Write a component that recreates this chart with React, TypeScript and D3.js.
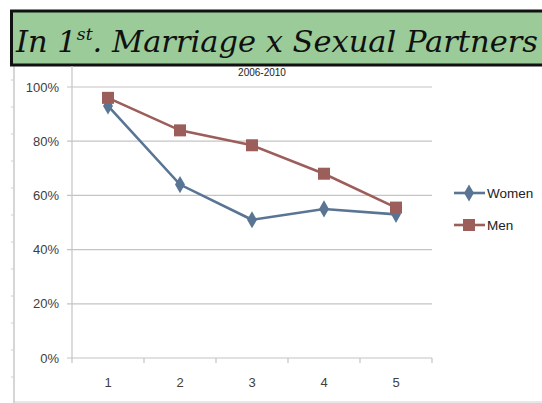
import React from "react";
import * as d3 from "d3";

const categories = ["1", "2", "3", "4", "5"];
const women = [0.93, 0.64, 0.51, 0.55, 0.53];
const men = [0.96, 0.84, 0.785, 0.68, 0.555];
const yTicks = [0, 0.2, 0.4, 0.6, 0.8, 1.0];
const seriesNames = ["Women", "Men"];

const W = 542;
const H = 403;

export default function App() {
  const x = d3.scaleBand().domain(categories).range([72, 432]);
  const y = d3.scaleLinear().domain([0, 1]).range([358, 87]);
  const line = d3
    .line<number>()
    .x((_, i) => (x(categories[i]) as number) + x.bandwidth() / 2)
    .y((d) => y(d));
  const womenColor = "#5a7494";
  const menColor = "#9c5e5a";
  const font = "'Liberation Sans', Arial, sans-serif";
  const diamond = d3.symbol().type(d3.symbolDiamond).size(85)();
  const leftTicks = d3.range(80, 400, 27);

  return (
    <svg
      width={W}
      height={H}
      style={{ position: "absolute", left: 0, top: 0, background: "#fff" }}
    >
      {/* outer frame */}
      <line x1={14} x2={14} y1={64} y2={403} stroke="#c8c8c8" strokeWidth={1.5} />
      {leftTicks.map((t) => (
        <line key={t} x1={11} x2={14} y1={t} y2={t} stroke="#d0d0d0" />
      ))}
      <line x1={14} x2={542} y1={402} y2={402} stroke="#d0d0d0" />

      {/* title box */}
      <rect x={11.5} y={11} width={540} height={54} fill="#9acb98" stroke="#111" strokeWidth={3} />
      <text
        x={16}
        y={52}
        fontFamily="'DejaVu Serif', 'Liberation Serif', serif"
        fontStyle="italic"
        fontSize={30}
        fill="#111"
        textLength={522}
        lengthAdjust="spacingAndGlyphs"
      >
        In 1<tspan fontSize={17} dy={-12}>st</tspan>
        <tspan dy={12}>. Marriage x Sexual Partners</tspan>
      </text>

      <text x={262} y={76} textAnchor="middle" fontFamily={font} fontSize={10} fill="#222">
        2006-2010
      </text>

      {/* gridlines */}
      {yTicks.map((t) => (
        <g key={t}>
          <line x1={67} x2={432} y1={y(t)} y2={y(t)} stroke="#c4c4c4" strokeWidth={1.2} />
          <text
            x={59}
            y={y(t) + 4.5}
            textAnchor="end"
            fontFamily={font}
            fontSize={13}
            fill="#404040"
          >
            {d3.format(".0%")(t)}
          </text>
        </g>
      ))}
      {/* y axis */}
      <line x1={72} x2={72} y1={66} y2={358} stroke="#c4c4c4" strokeWidth={1.2} />
      {/* x ticks */}
      {[...categories.map((c) => x(c) as number), 432].map((p) => (
        <line key={p} x1={p} x2={p} y1={358} y2={363} stroke="#c4c4c4" strokeWidth={1.2} />
      ))}
      {categories.map((c) => (
        <text
          key={c}
          x={(x(c) as number) + x.bandwidth() / 2}
          y={387}
          textAnchor="middle"
          fontFamily={font}
          fontSize={13}
          fill="#404040"
        >
          {c}
        </text>
      ))}

      {/* series */}
      <path d={line(women) || ""} fill="none" stroke={womenColor} strokeWidth={2.6} />
      <path d={line(men) || ""} fill="none" stroke={menColor} strokeWidth={2.6} />
      {women.map((v, i) => (
        <path
          key={"w" + i}
          d={diamond || ""}
          transform={`translate(${(x(categories[i]) as number) + x.bandwidth() / 2},${y(v)})`}
          fill={womenColor}
        />
      ))}
      {men.map((v, i) => (
        <rect
          key={"m" + i}
          x={(x(categories[i]) as number) + x.bandwidth() / 2 - 6}
          y={y(v) - 6}
          width={12}
          height={12}
          fill={menColor}
        />
      ))}

      {/* legend */}
      {seriesNames.map((n, i) => {
        const ly = 193 + i * 32;
        const c = i === 0 ? womenColor : menColor;
        return (
          <g key={n}>
            <line x1={454} x2={485} y1={ly} y2={ly} stroke={c} strokeWidth={2.6} />
            {i === 0 ? (
              <path d={diamond || ""} transform={`translate(469,${ly})`} fill={c} />
            ) : (
              <rect x={463} y={ly - 6} width={12} height={12} fill={c} />
            )}
            <text x={487} y={ly + 5} fontFamily={font} fontSize={13.5} fill="#222">
              {n}
            </text>
          </g>
        );
      })}
    </svg>
  );
}
